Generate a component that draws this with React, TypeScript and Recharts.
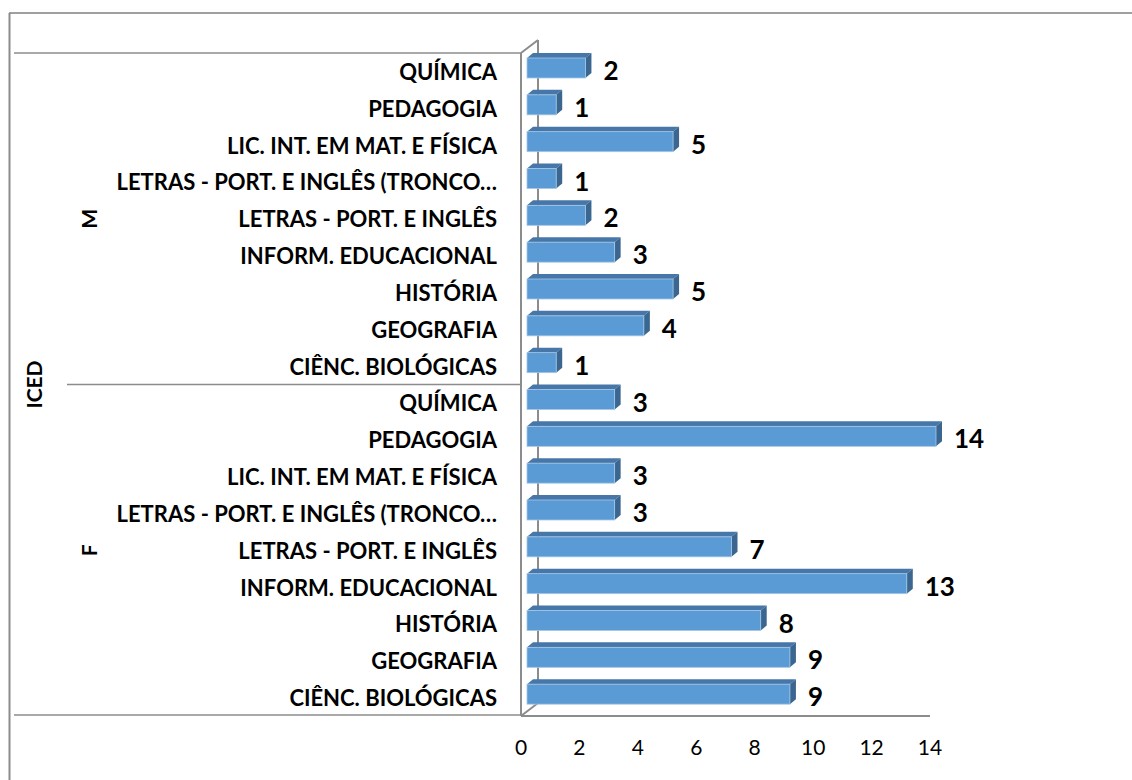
import React from 'react';
import { BarChart, Bar, XAxis, YAxis, LabelList, Customized } from 'recharts';

// ICED courses, same order for both groups (top to bottom)
const courses = [
  'QUÍMICA',
  'PEDAGOGIA',
  'LIC. INT. EM MAT. E FÍSICA',
  'LETRAS - PORT. E INGLÊS (TRONCO…',
  'LETRAS - PORT. E INGLÊS',
  'INFORM. EDUCACIONAL',
  'HISTÓRIA',
  'GEOGRAFIA',
  'CIÊNC. BIOLÓGICAS',
];
const mValues = [2, 1, 5, 1, 2, 3, 5, 4, 1];
const fValues = [3, 14, 3, 3, 7, 13, 8, 9, 9];
const groups = ['M', 'F'];
const instituteLabel = 'ICED';
const xTicks = [0, 2, 4, 6, 8, 10, 12, 14];

const W = 1132;
const H = 780;
const PLOT_LEFT = 521;
const PLOT_RIGHT = 930;
const PLOT_TOP = 53;
const PLOT_BOTTOM = 716;
const X_AXIS_H = 40;
const FONT = 'Lato, "Open Sans", sans-serif';
const GRID = '#8c8c8c';

const chartData = [
  ...courses.map((course, i) => ({ id: `M-${i}`, course, value: mValues[i] })),
  ...courses.map((course, i) => ({ id: `F-${i}`, course, value: fValues[i] })),
];
const nameById: Record<string, string> = {};
chartData.forEach(d => { nameById[d.id] = d.course; });

const DX = 6;
const DY = 5;

// 3D-looking horizontal bar
const Bar3D = (props: any) => {
  const { x, y, width, height } = props;
  const cy = y + height / 2;
  const x0 = x + 6;
  const x1 = x0 + width;
  const top = cy - 13;
  const bot = cy + 7;
  return (
    <g>
      <polygon
        points={`${x0},${top} ${x1},${top} ${x1 + DX},${top - DY} ${x0 + DX},${top - DY}`}
        fill="#4677a8"
      />
      <polygon
        points={`${x1},${top} ${x1 + DX},${top - DY} ${x1 + DX},${bot - DY} ${x1},${bot}`}
        fill="#3a6690"
      />
      <rect x={x0} y={top} width={width} height={bot - top} fill="#5b9bd5" stroke="#a6c6e6" strokeWidth={0.8} />
    </g>
  );
};

const ValueLabel = (props: any) => {
  const { x, y, width, height, value } = props;
  return (
    <text
      x={x + 6 + width + 18}
      y={y + height / 2 - 1}
      fontFamily={FONT}
      fontWeight={700}
      fontSize={26}
      fill="#000"
      textAnchor="start"
      dominantBaseline="central"
    >
      {value}
    </text>
  );
};

const CourseTick = (props: any) => {
  const { y, payload } = props;
  return (
    <text
      x={PLOT_LEFT - 24}
      y={y}
      fontFamily={FONT}
      fontWeight={700}
      fontSize={22}
      fill="#000"
      textAnchor="end"
      dominantBaseline="central"
    >
      {nameById[payload.value]}
    </text>
  );
};

const ValueTick = (props: any) => {
  const { x, payload } = props;
  return (
    <text
      x={x}
      y={746}
      fontFamily={FONT}
      fontSize={21}
      fill="#000"
      textAnchor="middle"
      dominantBaseline="central"
    >
      {payload.value}
    </text>
  );
};

// frame, back wall and group labels
const Decor = () => {
  const band = (PLOT_BOTTOM - PLOT_TOP) / chartData.length;
  const split = PLOT_TOP + band * courses.length;
  const back = PLOT_LEFT + 17;
  const lift = 13;
  const groupMid = [(PLOT_TOP + split) / 2, (split + PLOT_BOTTOM) / 2];
  const txt = (label: string, x: number, y: number) => (
    <text
      key={label}
      x={x}
      y={y}
      transform={`rotate(-90, ${x}, ${y})`}
      fontFamily={FONT}
      fontWeight={700}
      fontSize={21}
      fill="#000"
      textAnchor="middle"
      dominantBaseline="central"
    >
      {label}
    </text>
  );
  return (
    <g>
      <line x1={9} y1={13} x2={W} y2={13} stroke="#a0a0a0" strokeWidth={2} />
      <line x1={9.5} y1={13} x2={9.5} y2={H} stroke={GRID} strokeWidth={2} />
      <line x1={14} y1={PLOT_TOP} x2={PLOT_LEFT} y2={PLOT_TOP} stroke={GRID} strokeWidth={1.5} />
      <line x1={14} y1={PLOT_BOTTOM - 1} x2={PLOT_LEFT} y2={PLOT_BOTTOM - 1} stroke={GRID} strokeWidth={1.5} />
      <line x1={67} y1={split} x2={PLOT_LEFT} y2={split} stroke={GRID} strokeWidth={1.5} />
      <line x1={PLOT_LEFT} y1={PLOT_TOP} x2={back} y2={PLOT_TOP - lift} stroke={GRID} strokeWidth={2} />
      <line x1={back} y1={PLOT_TOP - lift} x2={back} y2={PLOT_BOTTOM - lift} stroke={GRID} strokeWidth={2} />
      <line x1={PLOT_LEFT} y1={PLOT_BOTTOM} x2={back} y2={PLOT_BOTTOM - lift} stroke={GRID} strokeWidth={2} />
      {txt(groups[0], 88, groupMid[0])}
      {txt(groups[1], 88, groupMid[1])}
      {txt(instituteLabel, 33, (PLOT_TOP + PLOT_BOTTOM) / 2)}
    </g>
  );
};

export default function App() {
  return (
    <div style={{ position: 'absolute', left: 0, top: 0, width: W, height: H, background: '#fff' }}>
      <BarChart
        width={W}
        height={H}
        data={chartData}
        layout="vertical"
        margin={{ top: PLOT_TOP, right: W - PLOT_RIGHT, bottom: H - PLOT_BOTTOM - X_AXIS_H, left: 0 }}
      >
        <Customized component={Decor} />
        <XAxis
          type="number"
          domain={[0, 14]}
          ticks={xTicks}
          height={X_AXIS_H}
          tickLine={false}
          axisLine={{ stroke: GRID, strokeWidth: 2 }}
          tick={<ValueTick />}
          interval={0}
        />
        <YAxis
          type="category"
          dataKey="id"
          width={PLOT_LEFT}
          tickLine={false}
          axisLine={{ stroke: GRID, strokeWidth: 2 }}
          tick={<CourseTick />}
          interval={0}
        />
        <Bar dataKey="value" barSize={26} shape={<Bar3D />} isAnimationActive={false}>
          <LabelList dataKey="value" content={<ValueLabel />} />
        </Bar>
      </BarChart>
    </div>
  );
}
